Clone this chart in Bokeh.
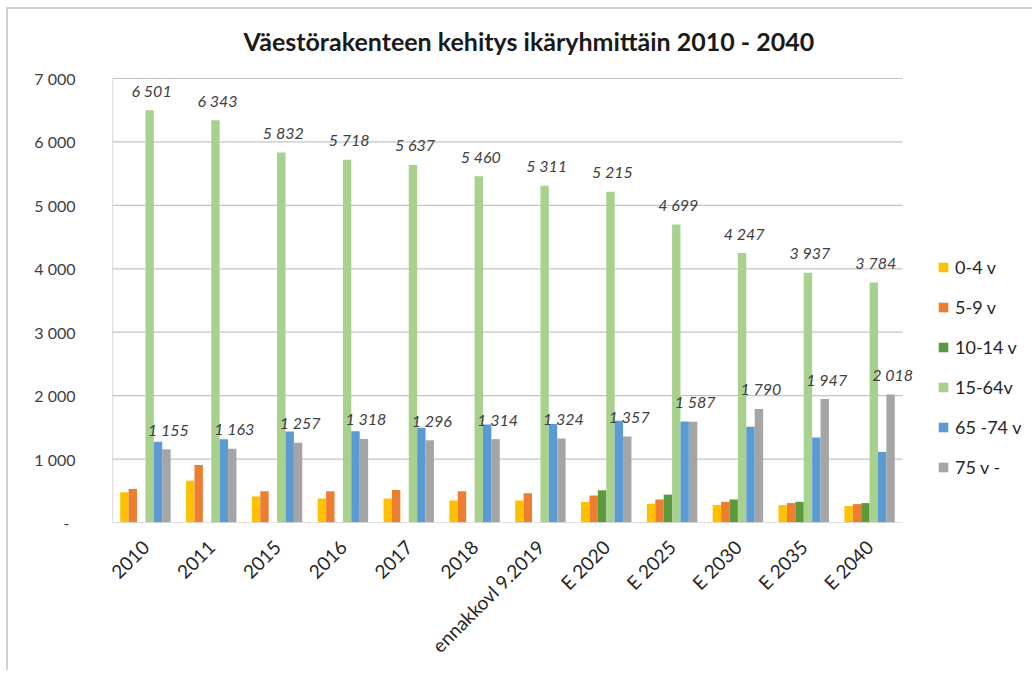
import math
from bokeh.plotting import figure
from bokeh.models import Range1d, FixedTicker, Legend, LegendItem, ColumnDataSource, Label
from bokeh.core.properties import value
from bokeh.embed import file_html
from bokeh.resources import INLINE

# ---------------- data ----------------
categories = ["2010", "2011", "2015", "2016", "2017", "2018", "ennakkovl 9.2019",
              "E 2020", "E 2025", "E 2030", "E 2035", "E 2040"]
series_names = ["0-4 v", "5-9 v", "10-14 v", "15-64v", "65 -74 v", "75 v -"]
age_0_4 = [477, 658, 409, 378, 378, 347, 347, 326, 295, 275, 275, 259]
age_5_9 = [528, 907, 492, 492, 513, 492, 461, 425, 363, 326, 306, 290]
age_10_14 = [0, 0, 0, 0, 0, 0, 0, 508, 440, 363, 326, 306]
age_15_64 = [6501, 6343, 5832, 5718, 5637, 5460, 5311, 5215, 4699, 4247, 3937, 3784]
age_65_74 = [1275, 1311, 1435, 1440, 1492, 1545, 1554, 1606, 1591, 1508, 1342, 1114]
age_75 = [1155, 1163, 1257, 1318, 1296, 1314, 1324, 1357, 1587, 1790, 1947, 2018]
y_ticks = [0, 1000, 2000, 3000, 4000, 5000, 6000, 7000]
y_tick_labels = ["-\u00a0\u2009", "1 000", "2 000", "3 000", "4 000", "5 000", "6 000", "7 000"]
title_text = "Väestörakenteen kehitys ikäryhmittäin 2010 - 2040"

colors = ["#FFC000", "#ED7D31", "#5B9A3C", "#A9D18E", "#5B9BD5", "#A5A5A5"]
FONT = "Lato"
TXT = "#404040"


def fmt(v):
    return f"{v:,}".replace(",", " ")


n = len(categories)
centers = [i + 0.5 for i in range(n)]
series = [age_0_4, age_5_9, age_10_14, age_15_64, age_65_74, age_75]
y_max = y_ticks[-1]
bar_w = 0.1276
offsets = [(i - 2.5) * bar_w for i in range(6)]

# layout (page pixels): canvas at (8, 9); frame x 112..1024, y 9..522;
# categories span x 112..902 and values 0..7000 span y 522..78
canvas_w, canvas_h = 1026, 663
left_px, right_px, bottom_px = 104, 10, 150
frame_w = canvas_w - left_px - right_px
frame_h = canvas_h - bottom_px
x_end = n * frame_w / 790.0
y_end = y_max * frame_h / 444.0

p = figure(x_range=Range1d(0, x_end), y_range=Range1d(0, y_end),
           width=canvas_w, height=canvas_h,
           output_backend="svg", toolbar_location=None,
           min_border_left=left_px, min_border_right=right_px,
           min_border_top=0, min_border_bottom=bottom_px)
p.styles = {"border-left": "2px solid #d0d0d0", "border-top": "2px solid #d0d0d0",
            "margin-left": "6px", "margin-top": "7px"}
p.outline_line_color = None
p.background_fill_color = "white"
p.border_fill_color = "white"

# gridlines limited to the category span
grid_src = ColumnDataSource(dict(x0=[0] * (len(y_ticks) - 1), x1=[n] * (len(y_ticks) - 1),
                                 y=y_ticks[1:]))
p.segment(x0="x0", x1="x1", y0="y", y1="y", source=grid_src,
          line_color="#c4c4c4", line_width=1.2)

renderers = []
for i, s in enumerate(series):
    src = ColumnDataSource(dict(x=[c + offsets[i] for c in centers], top=s))
    r = p.vbar(x="x", top="top", width=bar_w, source=src,
               fill_color=colors[i], line_color=None)
    renderers.append(r)

# axis lines over the value / category span
p.segment(x0=[0], x1=[n], y0=[0], y1=[0], line_color="#bfbfbf", line_width=1.2)
p.segment(x0=[0], x1=[0], y0=[0], y1=[y_max], line_color="#bfbfbf", line_width=1.2)

for i in (3, 5):
    src = ColumnDataSource(dict(x=[c + offsets[i] for c in centers], y=series[i],
                                t=[fmt(v) for v in series[i]]))
    p.text(x="x", y="y", text="t", source=src,
           text_font=value(FONT), text_font_style="italic",
           text_font_size="16px", text_color=TXT, text_align="center",
           text_baseline="middle", y_offset=-20, x_offset=2)

# axes
p.yaxis.ticker = FixedTicker(ticks=y_ticks)
p.yaxis.major_label_overrides = {t: l for t, l in zip(y_ticks, y_tick_labels)}
p.yaxis.axis_line_color = None
p.yaxis.major_tick_line_color = None
p.yaxis.major_tick_out = 0
p.yaxis.major_tick_in = 0
p.yaxis.minor_tick_line_color = None
p.yaxis.major_label_standoff = 37
p.yaxis.major_label_text_font = FONT
p.yaxis.major_label_text_font_size = "16px"
p.yaxis.major_label_text_color = TXT

p.xaxis.ticker = FixedTicker(ticks=centers)
p.xaxis.major_label_overrides = {c: l for c, l in zip(centers, categories)}
p.xaxis.axis_line_color = None
p.xaxis.major_tick_line_color = None
p.xaxis.major_tick_out = 0
p.xaxis.major_tick_in = 0
p.xaxis.minor_tick_line_color = None
p.xaxis.major_label_orientation = math.pi / 4
p.xaxis.major_label_standoff = 21
p.xaxis.major_label_text_font = FONT
p.xaxis.major_label_text_font_size = "19px"
p.xaxis.major_label_text_color = "#262626"

p.grid.grid_line_color = None

# title (inside the extended frame, above the value area)
p.add_layout(Label(x=131, y=482, x_units="screen", y_units="screen", text=title_text,
                   text_font=FONT, text_font_style="bold", text_font_size="25px",
                   text_color="#1a1a1a", text_align="left", text_baseline="middle"))

# legend
legend = Legend(items=[LegendItem(label=nm, renderers=[r]) for nm, r in zip(series_names, renderers)],
                location=(825, 44), orientation="vertical")
legend.padding = 0
legend.margin = 0
legend.border_line_color = None
legend.background_fill_alpha = 0
legend.glyph_width = 12
legend.glyph_height = 12
legend.label_height = 22
legend.spacing = 18
legend.label_standoff = 6
legend.label_text_font = FONT
legend.label_text_font_size = "18px"
legend.label_text_color = "#262626"
p.add_layout(legend, "center")

open("out.html", "w").write(file_html(p, INLINE))
